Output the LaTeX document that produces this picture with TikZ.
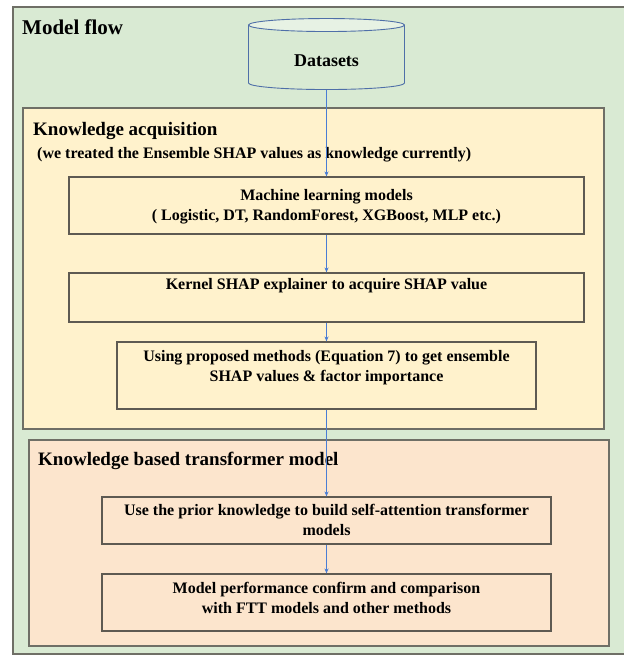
\documentclass[tikz,border=0pt]{standalone}
\usepackage{fontspec}
\setmainfont{Liberation Serif}
\usetikzlibrary{shapes.geometric,arrows.meta}

\definecolor{flowgreen}{HTML}{D9EAD3}
\definecolor{acqyellow}{HTML}{FFF2CC}
\definecolor{kbtpeach}{HTML}{FCE5CD}
\definecolor{frame}{HTML}{6F6F66}
\definecolor{boxline}{HTML}{5E5A52}
\definecolor{dbline}{HTML}{4F6FA8}
\definecolor{dbtop}{HTML}{E7F2E4}
\definecolor{flowblue}{HTML}{4A7DD4}

\tikzset{
    panel/.style={draw=frame, line width=1.1pt},
    procbox/.style={draw=boxline, line width=1.1pt, inner sep=0pt},
    boxtext/.style={align=center, inner sep=0pt, font=\fontsize{16}{20}\selectfont\bfseries},
    headtext/.style={anchor=base west, inner sep=0pt, font=\fontsize{19}{23}\selectfont\bfseries},
    flowarrow/.style={draw=flowblue, line width=0.8pt, -{Stealth[length=5pt,width=4pt]}},
}

\begin{document}
\begin{tikzpicture}[x=1pt,y=-1pt]

    \useasboundingbox (0,0) rectangle (623,655);
    \fill[white] (0,0) rectangle (623,655);

    %% the three panels
    \draw[panel, fill=flowgreen] (13,7) rectangle (640,654);
    \draw[panel, fill=acqyellow] (23,108) rectangle (604,429);
    \draw[panel, fill=kbtpeach] (29,440) rectangle (609,646);

    \node[headtext, font=\fontsize{21}{25}\selectfont\bfseries] (flowtitle) at (22,35) {Model flow};
    \node[headtext] (acqtitle) at (33,136) {Knowledge acquisition};
    \node[headtext, font=\fontsize{16}{20}\selectfont\bfseries] (acqnote) at (37,159) {(we treated the Ensemble SHAP values as knowledge currently)};
    \node[headtext] (kbttitle) at (38,465) {Knowledge based transformer model};

    %% datasets
    \node[cylinder, shape border rotate=90, aspect=0.2, draw=dbline, line width=0.9pt,
          cylinder uses custom fill, cylinder body fill=flowgreen, cylinder end fill=dbtop,
          minimum width=156, minimum height=71, inner sep=0pt,
          font=\fontsize{18}{22}\selectfont\bfseries] (data) at (326.5,57.5) {\phantom{Datasets}};
    \node[anchor=base, inner sep=0pt, font=\fontsize{18}{22}\selectfont\bfseries] (datatext) at (326.5,67) {Datasets};

    %% the steps
    \node[procbox, minimum width=515, minimum height=57] (ml) at (326.5,205.5) {};
    \node[procbox, minimum width=515, minimum height=49] (kernel) at (326.5,297.5) {};
    \node[procbox, minimum width=419, minimum height=67] (using) at (326.5,375.5) {};
    \node[procbox, minimum width=449, minimum height=47] (use) at (326.5,520.5) {};
    \node[procbox, minimum width=449, minimum height=57] (model) at (326.5,602.5) {};

    \node[boxtext] (mltext) at (326.5,206.9) {Machine learning models\\( Logistic, DT, RandomForest, XGBoost, MLP etc.)};
    \node[boxtext] (kerneltext) at (326.5,285.2) {Kernel SHAP explainer to acquire SHAP value};
    \node[boxtext] (usingtext) at (326.5,367.9) {Using proposed methods (Equation 7) to get ensemble\\SHAP values \& factor importance};
    \node[boxtext] (usetext) at (326.5,520.2) {Use the prior knowledge to build self-attention transformer\\models};
    \node[boxtext] (modeltext) at (326.5,598) {Model performance confirm and comparison\\with FTT models and other methods};

    \foreach \a/\b in {data/ml,ml/kernel,kernel/using,using/use,use/model}{
    \draw[flowarrow] (\a) -- (\b);
    }
\end{tikzpicture}
\end{document}
